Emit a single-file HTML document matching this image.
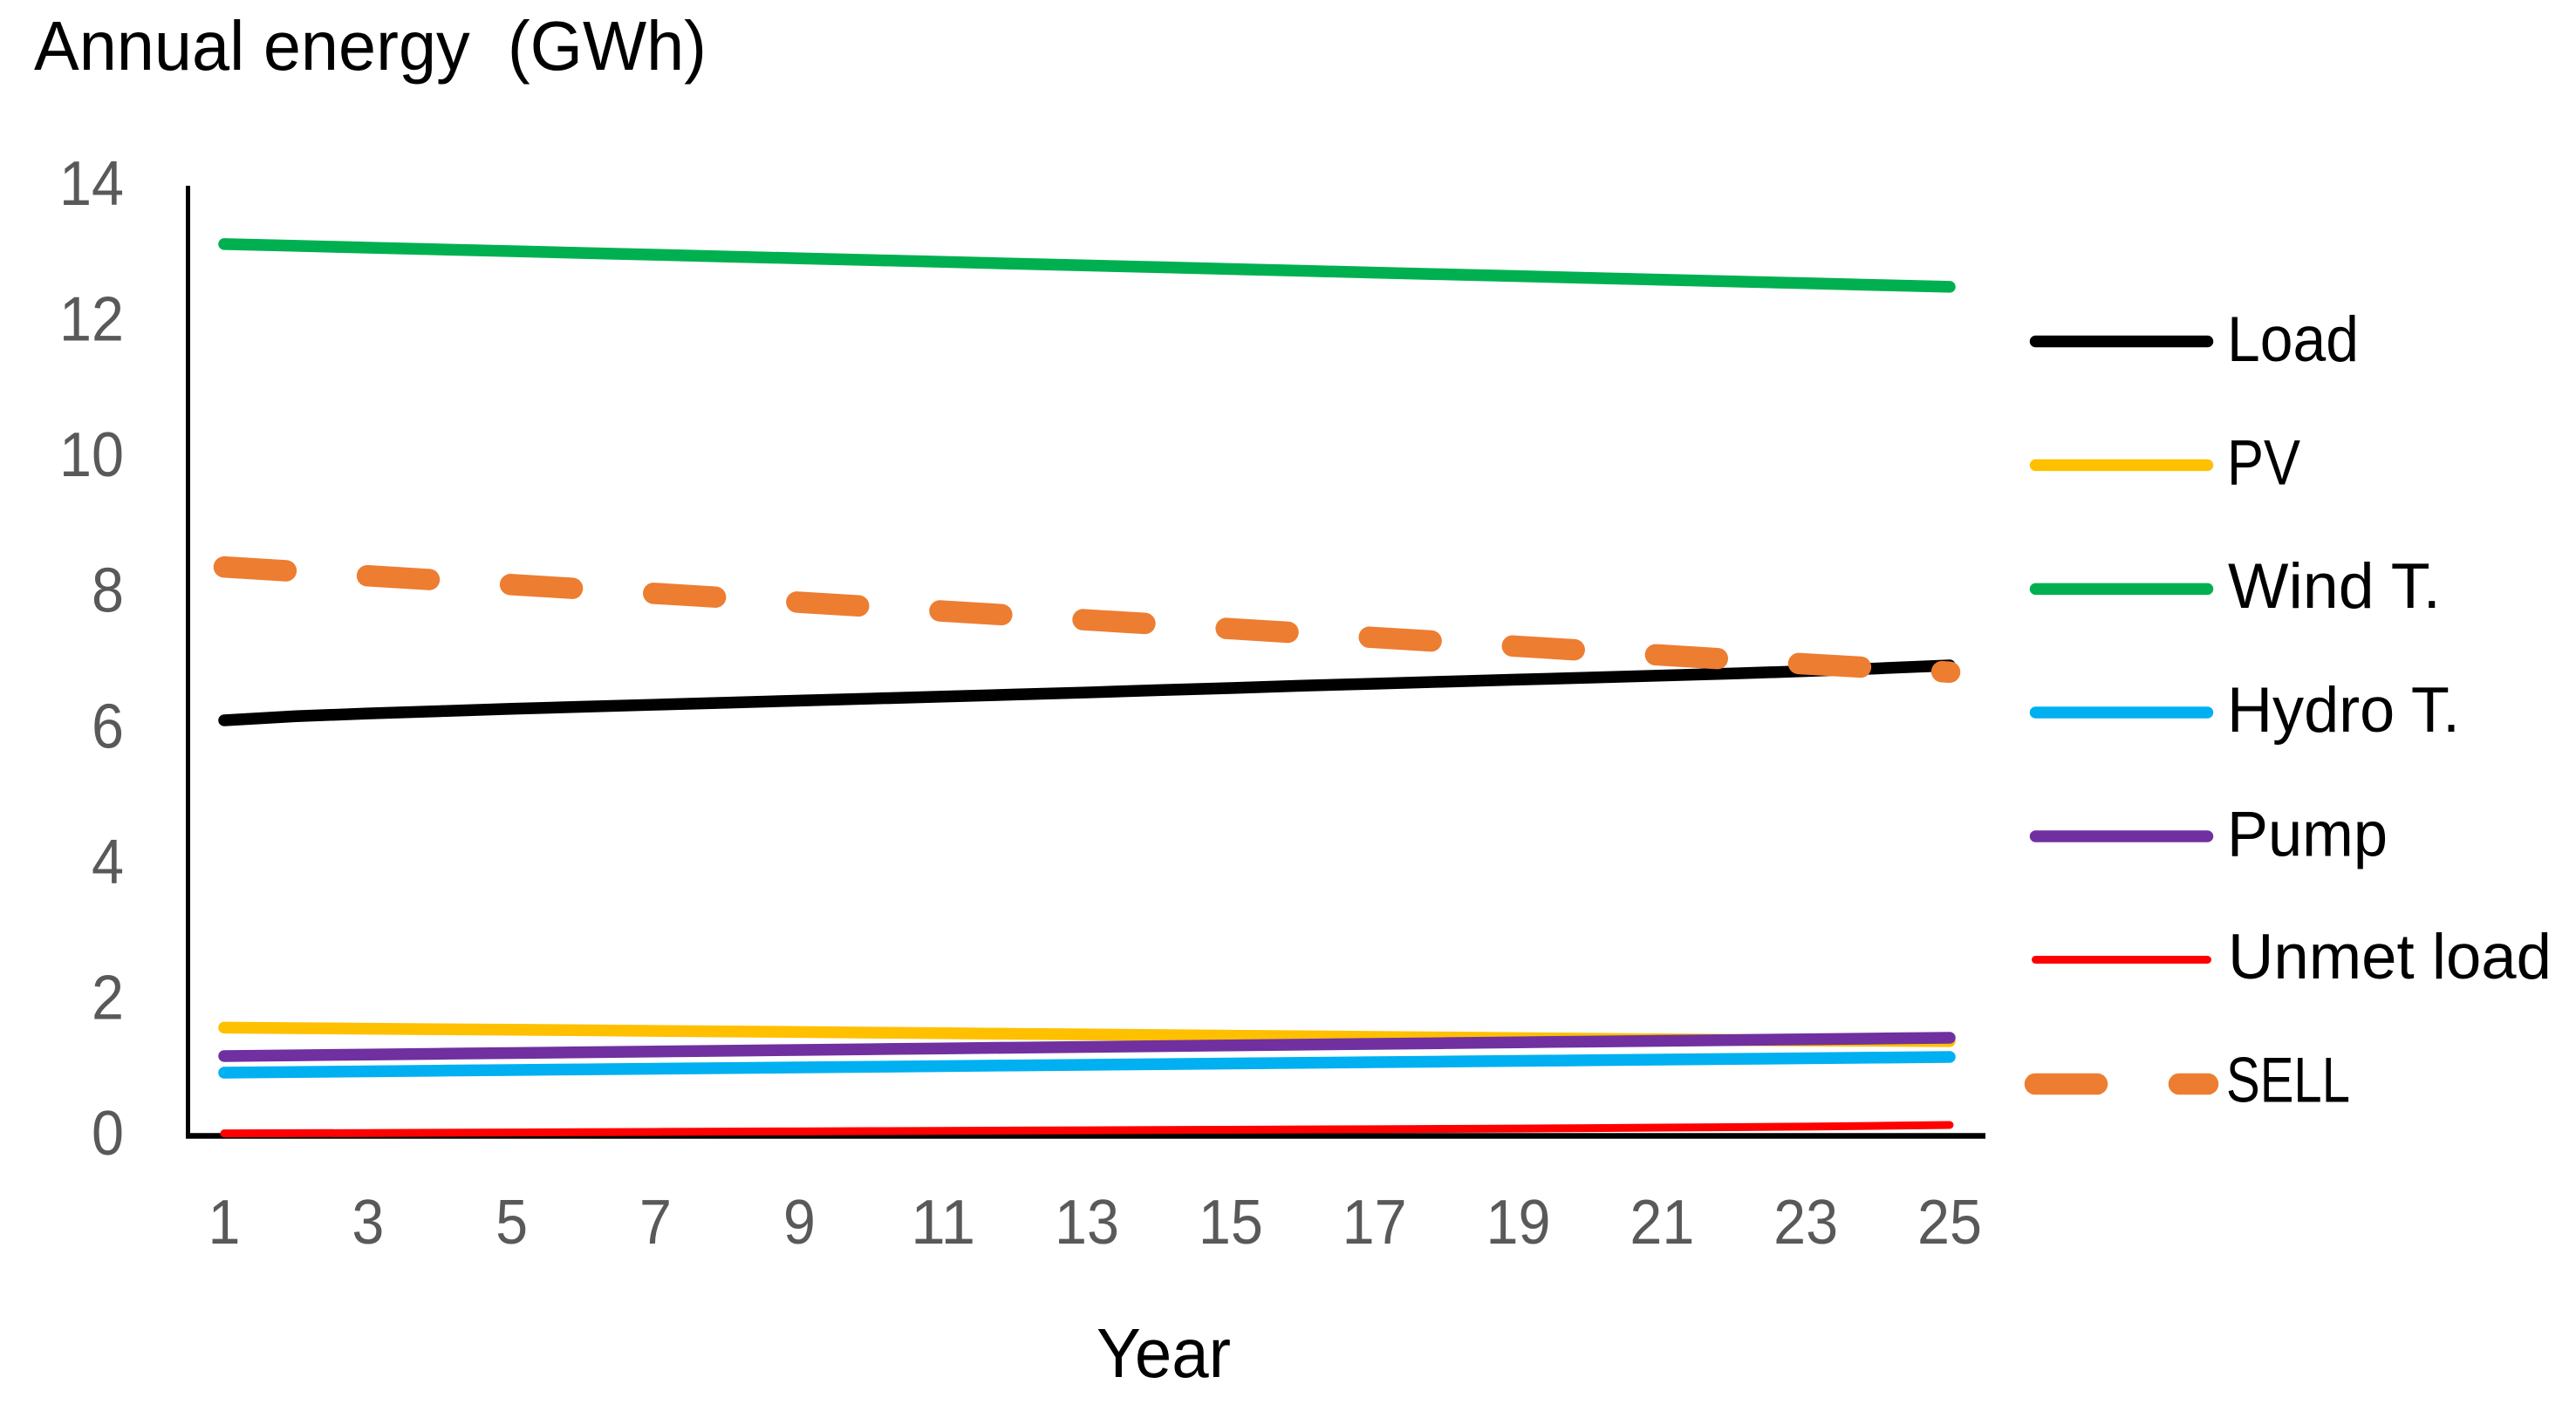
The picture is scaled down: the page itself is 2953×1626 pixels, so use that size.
<!DOCTYPE html>
<html lang="en">
<head>
<meta charset="utf-8">
<title>Annual energy chart</title>
<style>
html,body{margin:0;padding:0;background:#fff;}
svg{display:block;}
text{font-family:"Liberation Sans",sans-serif;white-space:pre;}
</style>
</head>
<body>
<svg id="chart" xmlns="http://www.w3.org/2000/svg" width="2953" height="1626" viewBox="0 0 2953 1626">
  <rect width="2953" height="1626" fill="#fff"/>
  <text x="39" y="80" font-size="80" fill="#000" textLength="771" lengthAdjust="spacingAndGlyphs" xml:space="preserve">Annual energy  (GWh)</text>
  <text x="1257" y="1579" font-size="80" fill="#000" textLength="154" lengthAdjust="spacingAndGlyphs">Year</text>
  <g id="ticks"></g>
  <line x1="215.5" y1="213" x2="215.5" y2="1305.5" stroke="#000" stroke-width="5"/>
  <line x1="213" y1="1302.5" x2="2276" y2="1302.5" stroke="#000" stroke-width="6.5"/>
  <g id="series"></g>
  <g>
    <g>
      <line x1="2333.5" y1="391.5" x2="2530.5" y2="391.5" stroke="#000" stroke-width="13.5" stroke-linecap="round"/>
      <text x="2553" y="414" font-size="73" fill="#000" textLength="151" lengthAdjust="spacingAndGlyphs">Load</text>
    </g>
    <g>
      <line x1="2333.5" y1="533.4" x2="2530.5" y2="533.4" stroke="#FFC000" stroke-width="13.5" stroke-linecap="round"/>
      <text x="2553" y="555.6" font-size="73" fill="#000" textLength="84" lengthAdjust="spacingAndGlyphs">PV</text>
    </g>
    <g>
      <line x1="2333.5" y1="675.4" x2="2530.5" y2="675.4" stroke="#00B050" stroke-width="13.5" stroke-linecap="round"/>
      <text x="2554" y="697" font-size="73" fill="#000" textLength="244" lengthAdjust="spacingAndGlyphs">Wind T.</text>
    </g>
    <g>
      <line x1="2333.5" y1="817" x2="2530.5" y2="817" stroke="#00B0F0" stroke-width="13.5" stroke-linecap="round"/>
      <text x="2553" y="839" font-size="73" fill="#000" textLength="267" lengthAdjust="spacingAndGlyphs">Hydro T.</text>
    </g>
    <g>
      <line x1="2333.5" y1="959" x2="2530.5" y2="959" stroke="#7030A0" stroke-width="13.5" stroke-linecap="round"/>
      <text x="2553" y="981.5" font-size="73" fill="#000" textLength="184" lengthAdjust="spacingAndGlyphs">Pump</text>
    </g>
    <g>
      <line x1="2333.5" y1="1100.5" x2="2530.5" y2="1100.5" stroke="#FF0000" stroke-width="9" stroke-linecap="round"/>
      <text x="2554" y="1122" font-size="73" fill="#000" textLength="371" lengthAdjust="spacingAndGlyphs">Unmet load</text>
    </g>
    <g>
      <line x1="2333" y1="1243" x2="2531" y2="1243" stroke="#ED7D31" stroke-width="24.5" stroke-linecap="round" stroke-dasharray="71 94"/>
      <text x="2552" y="1263.6" font-size="73" fill="#000" textLength="142" lengthAdjust="spacingAndGlyphs">SELL</text>
    </g>
  </g>
</svg>
<script>
var years = [1,2,3,4,5,6,7,8,9,10,11,12,13,14,15,16,17,18,19,20,21,22,23,24,25];
var yTickLabels = [0,2,4,6,8,10,12,14];
var xTickLabels = [1,3,5,7,9,11,13,15,17,19,21,23,25];
var loadValues = [6.12,6.18,6.22,6.255,6.29,6.32,6.35,6.38,6.41,6.44,6.47,6.50,6.53,6.565,6.595,6.63,6.66,6.69,6.72,6.75,6.78,6.81,6.845,6.885,6.93];
var pvValues = [1.59,1.582,1.574,1.566,1.558,1.55,1.541,1.533,1.525,1.516,1.507,1.498,1.489,1.48,1.471,1.462,1.453,1.444,1.435,1.426,1.417,1.408,1.40,1.395,1.39];
var windValues = [13.14,13.114,13.088,13.061,13.035,13.009,12.983,12.956,12.93,12.904,12.878,12.851,12.825,12.799,12.773,12.746,12.72,12.694,12.668,12.641,12.615,12.589,12.563,12.536,12.51];
var hydroValues = [0.925,0.935,0.945,0.955,0.964,0.974,0.984,0.993,1.003,1.012,1.022,1.032,1.041,1.051,1.06,1.07,1.08,1.089,1.099,1.108,1.118,1.128,1.137,1.147,1.157];
var pumpValues = [1.17,1.181,1.193,1.204,1.215,1.226,1.238,1.249,1.26,1.271,1.283,1.294,1.305,1.316,1.328,1.339,1.35,1.361,1.373,1.384,1.395,1.406,1.418,1.429,1.44];
var unmetValues = [0.03,0.033,0.036,0.04,0.044,0.048,0.052,0.056,0.06,0.064,0.068,0.072,0.076,0.08,0.084,0.088,0.092,0.097,0.102,0.108,0.115,0.122,0.13,0.142,0.155];
var sellValues = [8.38,8.315,8.25,8.185,8.12,8.055,7.99,7.925,7.86,7.795,7.73,7.665,7.60,7.535,7.47,7.405,7.34,7.275,7.21,7.145,7.08,7.015,6.95,6.89,6.83];

var NS = 'http://www.w3.org/2000/svg';
function xPos(year) { return 257 + (year - 1) * (2235 - 257) / 24; }
function yPos(value) { return 1302 - value * (1302 - 213) / 14; }

function linePath(values) {
  var d = '';
  for (var i = 0; i < values.length; i++) {
    d += (i === 0 ? 'M' : 'L') + xPos(years[i]).toFixed(2) + ' ' + yPos(values[i]).toFixed(2);
  }
  return d;
}

function addSeries(name, values, color, width, dash) {
  var p = document.createElementNS(NS, 'path');
  
  
  p.setAttribute('d', linePath(values));
  p.setAttribute('fill', 'none');
  p.setAttribute('stroke', color);
  p.setAttribute('stroke-width', width);
  p.setAttribute('stroke-linecap', 'round');
  p.setAttribute('stroke-linejoin', 'round');
  if (dash) { p.setAttribute('stroke-dasharray', dash); }
  document.getElementById('series').appendChild(p);
}

function addTick(name, label, x, y, anchor) {
  var t = document.createElementNS(NS, 'text');
  
  
  t.setAttribute('x', x);
  t.setAttribute('y', y);
  t.setAttribute('font-size', '72');
  t.setAttribute('fill', '#595959');
  t.setAttribute('text-anchor', anchor);
  t.setAttribute('textLength', String(label).length * 37);
  t.setAttribute('lengthAdjust', 'spacingAndGlyphs');
  t.textContent = label;
  document.getElementById('ticks').appendChild(t);
}

yTickLabels.forEach(function (v) {
  addTick('y-tick-' + v, v, 142, yPos(v) + 22, 'end');
});
xTickLabels.forEach(function (v) {
  addTick('x-tick-' + v, v, xPos(v), 1426, 'middle');
});

addSeries('series-load', loadValues, '#000000', 13.5);
addSeries('series-pv', pvValues, '#FFC000', 13.5);
addSeries('series-wind', windValues, '#00B050', 13.5);
addSeries('series-hydro', hydroValues, '#00B0F0', 13.5);
addSeries('series-pump', pumpValues, '#7030A0', 13.5);
addSeries('series-unmet-load', unmetValues, '#FF0000', 9);
addSeries('series-sell', sellValues, '#ED7D31', 24.5, '71 93.4');
</script>
</body>
</html>
